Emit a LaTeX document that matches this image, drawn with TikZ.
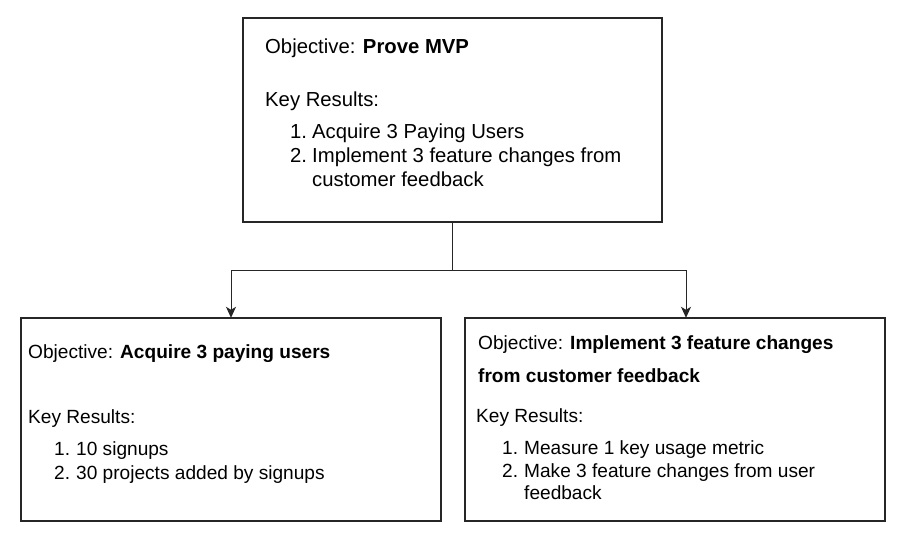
\documentclass[tikz,border=0pt]{standalone}
\usepackage{fontspec}
\setmainfont{Liberation Sans}
\usetikzlibrary{arrows.meta}
\begin{document}
\begin{tikzpicture}[x=1pt,y=-1pt,
  okrbox/.style={draw=black!85,line width=1.2pt,fill=white},
  txt/.style={anchor=base west,inner sep=0pt,font=\fontsize{20.3}{24}\selectfont},
  stxt/.style={anchor=base west,inner sep=0pt,font=\fontsize{19.1}{23}\selectfont},
  conn/.style={draw=black!85,line width=1pt},
  arr/.style={conn,-{Stealth[length=11pt,width=10pt,inset=3pt]}}]
\useasboundingbox (0,0) rectangle (902,540);
\fill[white] (0,0) rectangle (902,540);
% boxes
\path[okrbox] (243,18) rectangle (662,222);
\node[inner sep=0pt,minimum width=419pt,minimum height=204pt] (top) at (452.5,120) {};
\path[okrbox] (21,318) rectangle (441,521);
\node[inner sep=0pt,minimum width=420pt,minimum height=203pt] (left) at (231,419.5) {};
\path[okrbox] (465,318) rectangle (885,521);
\node[inner sep=0pt,minimum width=420pt,minimum height=203pt] (right) at (675,419.5) {};
% connectors
\coordinate (jL) at (231,270);
\coordinate (jR) at (686,270);
\draw[conn] (top.south) -- (top.south |- jL) -- (jL);
\draw[conn] (top.south |- jR) -- (jR);
\draw[arr] (jL) -- (jL |- left.north);
\draw[arr] (jR) -- (jR |- right.north);
% top text
\node[txt] (t1) at (265,54) {Objective: \textbf{Prove MVP}};
\node[txt] (t2) at (265,107) {Key Results:};
\node[txt] (t3n) at (290,139) {1.};
\node[txt] (t3) at (312,139) {Acquire 3 Paying Users};
\node[txt] (t4n) at (290,163) {2.};
\node[txt] (t4) at (312,163) {Implement 3 feature changes from};
\node[txt] (t5) at (312,187) {customer feedback};
% left text
\node[stxt] (l1) at (28,358) {Objective: \textbf{Acquire 3 paying users}};
\node[stxt] (l2) at (28,423) {Key Results:};
\node[stxt] (l3n) at (54,455) {1.};
\node[stxt] (l3) at (76,455) {10 signups};
\node[stxt] (l4n) at (54,479) {2.};
\node[stxt] (l4) at (76,479) {30 projects added by signups};
% right text
\node[stxt] (r1) at (478,349) {Objective: \textbf{Implement 3 feature changes}};
\node[stxt] (r2) at (478,382) {\textbf{from customer feedback}};
\node[stxt] (r3) at (476,422) {Key Results:};
\node[stxt] (r4n) at (502,454) {1.};
\node[stxt] (r4) at (524,454) {Measure 1 key usage metric};
\node[stxt] (r5n) at (502,477) {2.};
\node[stxt] (r5) at (524,477) {Make 3 feature changes from user};
\node[stxt] (r6) at (524,499) {feedback};
\end{tikzpicture}
\end{document}
